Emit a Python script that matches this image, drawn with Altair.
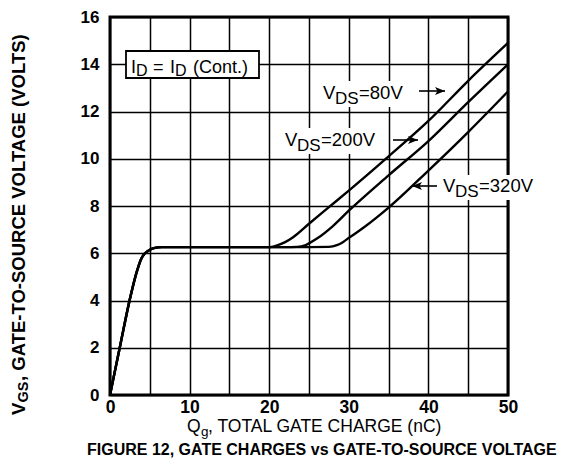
import altair as alt
import pandas as pd

# ---------------- data ----------------
# shared rising part + Miller plateau (all three V_DS curves coincide here)
q_common = [0, 1.26, 2.51, 3.35, 3.9, 4.4, 4.95, 5.5, 6.5, 12, 20]
v_common = [0, 2.06, 4.08, 5.2, 5.75, 6.0, 6.14, 6.22, 6.26, 6.26, 6.26]

q_80 = [20.3, 21, 22, 23, 25, 27.5, 30, 35, 40, 45, 50]
v_80 = [6.27, 6.33, 6.47, 6.68, 7.25, 7.95, 8.65, 10.1, 11.6, 13.3, 14.9]

q_200 = [22, 23.5, 24.5, 25, 26, 28, 30, 35, 40, 45, 50]
v_200 = [6.26, 6.27, 6.33, 6.42, 6.62, 7.15, 7.8, 9.3, 10.75, 12.4, 14.0]

q_320 = [24, 27.5, 28.5, 29.3, 30, 32, 35, 40, 45, 50]
v_320 = [6.26, 6.27, 6.34, 6.48, 6.65, 7.12, 7.93, 9.5, 11.13, 12.85]

series_names = ["VDS=80V", "VDS=200V", "VDS=320V"]
series_q = [q_80, q_200, q_320]
series_v = [v_80, v_200, v_320]

x_ticks = [0, 5, 10, 15, 20, 25, 30, 35, 40, 45, 50]
y_ticks = [0, 2, 4, 6, 8, 10, 12, 14, 16]

rows = []
for name, qs, vs in zip(series_names, series_q, series_v):
    for q, v in zip(q_common + qs, v_common + vs):
        rows.append({"series": name, "q": q, "v": v})
curves = pd.DataFrame(rows)

# ---------------- layout helpers (page pixels -> plot pixels) ----------------
OX, OY = 110, 17
W, H = 398, 378
REG = "Liberation Sans, Arial, Helvetica"


def pts(xs, ys):
    return [x - OX for x in xs], [y - OY for y in ys]


# ---------------- main curves ----------------
lines = alt.Chart(curves).mark_line(
    color="black", strokeWidth=2.4, interpolate="monotone"
).encode(
    x=alt.X(
        "q:Q",
        scale=alt.Scale(domain=[0, 50], nice=False, zero=False),
        axis=alt.Axis(
            values=x_ticks,
            labelExpr="datum.value % 10 === 0 ? datum.label : ''",
            grid=True, gridColor="black", gridWidth=1.5, gridOpacity=1,
            ticks=False, domain=False, labelFlush=False, labelOverlap=False,
            labelFont=REG, labelFontWeight="bold", labelFontSize=17.5,
            labelColor="black", labelPadding=3, title=None,
        ),
    ),
    y=alt.Y(
        "v:Q",
        scale=alt.Scale(domain=[0, 16], nice=False, zero=False),
        axis=alt.Axis(
            values=y_ticks,
            grid=True, gridColor="black", gridWidth=1.5, gridOpacity=1,
            ticks=False, domain=False, labelFlush=False, labelOverlap=False,
            labelFont=REG, labelFontWeight="bold", labelFontSize=17,
            labelColor="black", labelPadding=11, labelBaseline="middle",
            title=None,
        ),
    ),
    detail="series:N",
)

# ---------------- white backgrounds behind labels, legend box ----------------
bx1, by1 = pts([319, 282, 440], [81, 128, 175])
bx2, by2 = pts([408, 380, 540], [107, 154, 200])
bg = alt.Chart(pd.DataFrame({"x": bx1, "x2": bx2, "y": by1, "y2": by2})).mark_rect(
    fill="white", stroke=None
).encode(
    x=alt.X("x:Q", scale=None), x2="x2:Q",
    y=alt.Y("y:Q", scale=None), y2="y2:Q",
)

lx1, ly1 = pts([126], [51])
lx2, ly2 = pts([259], [78])
legend_box = alt.Chart(pd.DataFrame({"x": lx1, "x2": lx2, "y": ly1, "y2": ly2})).mark_rect(
    fill="white", stroke="black", strokeWidth=1.8
).encode(
    x=alt.X("x:Q", scale=None), x2="x2:Q",
    y=alt.Y("y:Q", scale=None), y2="y2:Q",
)

# ---------------- text pieces ----------------
ann_text = ["V", "DS", "=80V", "V", "DS", "=200V", "V", "DS", "=320V",
            "Q", "g", ", TOTAL GATE CHARGE (nC)"]
ann_px = [323, 335, 359, 285, 297, 321, 443, 455, 479, 187, 201, 208]
ann_py = [99, 104, 99, 146, 151, 146, 192, 197, 192, 432, 436, 432]
ann_fs = [18.5, 17, 18.5, 18.5, 17, 18.5, 18.5, 17, 18.5, 17.5, 13.5, 17.5]
ax, ay = pts(ann_px, ann_py)
ann = alt.Chart(pd.DataFrame({"t": ann_text, "x": ax, "y": ay, "fs": ann_fs})).mark_text(
    align="left", baseline="alphabetic", font=REG, color="black"
).encode(
    x=alt.X("x:Q", scale=None), y=alt.Y("y:Q", scale=None),
    text="t:N", size=alt.Size("fs:Q", scale=None, legend=None),
)

leg_text = ["I", "D", "=", "I", "D", "(Cont.)"]
leg_px = [131, 136, 153, 170, 175, 193]
leg_py = [72.7, 76, 72.7, 72.7, 76, 72.7]
leg_fs = [18, 16, 18, 18, 16, 18]
gx, gy = pts(leg_px, leg_py)
leg = alt.Chart(pd.DataFrame({"t": leg_text, "x": gx, "y": gy, "fs": leg_fs})).mark_text(
    align="left", baseline="alphabetic", font=REG, color="black"
).encode(
    x=alt.X("x:Q", scale=None), y=alt.Y("y:Q", scale=None),
    text="t:N", size=alt.Size("fs:Q", scale=None, legend=None),
)

cap_text = ["FIGURE 12, GATE CHARGES vs GATE-TO-SOURCE VOLTAGE"]
cx, cy = pts([87], [455])
caption = alt.Chart(pd.DataFrame({"t": cap_text, "x": cx, "y": cy})).mark_text(
    align="left", baseline="alphabetic", font=REG, fontWeight="bold",
    fontSize=16, color="black"
).encode(x=alt.X("x:Q", scale=None), y=alt.Y("y:Q", scale=None), text="t:N")

yt_text = ["V", "GS", ", GATE-TO-SOURCE VOLTAGE (VOLTS)"]
yt_px = [25, 27.5, 25]
yt_py = [415, 402.5, 381]
yt_fs = [18.5, 14.5, 18.5]
tx, ty = pts(yt_px, yt_py)
ytitle = alt.Chart(pd.DataFrame({"t": yt_text, "x": tx, "y": ty, "fs": yt_fs})).mark_text(
    align="left", baseline="alphabetic", font=REG, fontWeight="bold",
    angle=270, color="black"
).encode(
    x=alt.X("x:Q", scale=None), y=alt.Y("y:Q", scale=None),
    text="t:N", size=alt.Size("fs:Q", scale=None, legend=None),
)

# ---------------- arrows ----------------
arr_tail = [419, 393, 437]
arr_head = [445, 418, 412]
arr_y = [91, 140, 186]
sx1, sy = pts(arr_tail, arr_y)
sx2, _ = pts(arr_head, arr_y)
shafts = alt.Chart(pd.DataFrame({"x": sx1, "x2": sx2, "y": sy})).mark_rule(
    color="black", strokeWidth=1.6
).encode(x=alt.X("x:Q", scale=None), x2="x2:Q", y=alt.Y("y:Q", scale=None))

right_heads = [(h, y) for t, h, y in zip(arr_tail, arr_head, arr_y) if h > t]
left_heads = [(h, y) for t, h, y in zip(arr_tail, arr_head, arr_y) if h < t]
rhx, rhy = pts([h - 5 for h, _ in right_heads], [y for _, y in right_heads])
lhx, lhy = pts([h + 5 for h, _ in left_heads], [y for _, y in left_heads])
heads_r = alt.Chart(pd.DataFrame({"x": rhx, "y": rhy})).mark_point(
    shape="M -1 -0.8 L 1 0 L -1 0.8 L -0.5 0 Z", filled=True, color="black",
    size=100, opacity=1, strokeWidth=0
).encode(x=alt.X("x:Q", scale=None), y=alt.Y("y:Q", scale=None))
heads_l = alt.Chart(pd.DataFrame({"x": lhx, "y": lhy})).mark_point(
    shape="M 1 -0.8 L -1 0 L 1 0.8 L 0.5 0 Z", filled=True, color="black",
    size=100, opacity=1, strokeWidth=0
).encode(x=alt.X("x:Q", scale=None), y=alt.Y("y:Q", scale=None))

chart = alt.layer(
    lines, bg, legend_box, leg, ann, shafts, heads_r, heads_l, caption, ytitle
).properties(
    width=W, height=H,
    autosize=alt.AutoSizeParams(type="none"),
    padding={"left": 102, "top": 9, "right": 70, "bottom": 64},
    background="white",
).configure_view(stroke="black", strokeWidth=3)

chart.save("out.html", embed_options={"renderer": "svg", "actions": False})
